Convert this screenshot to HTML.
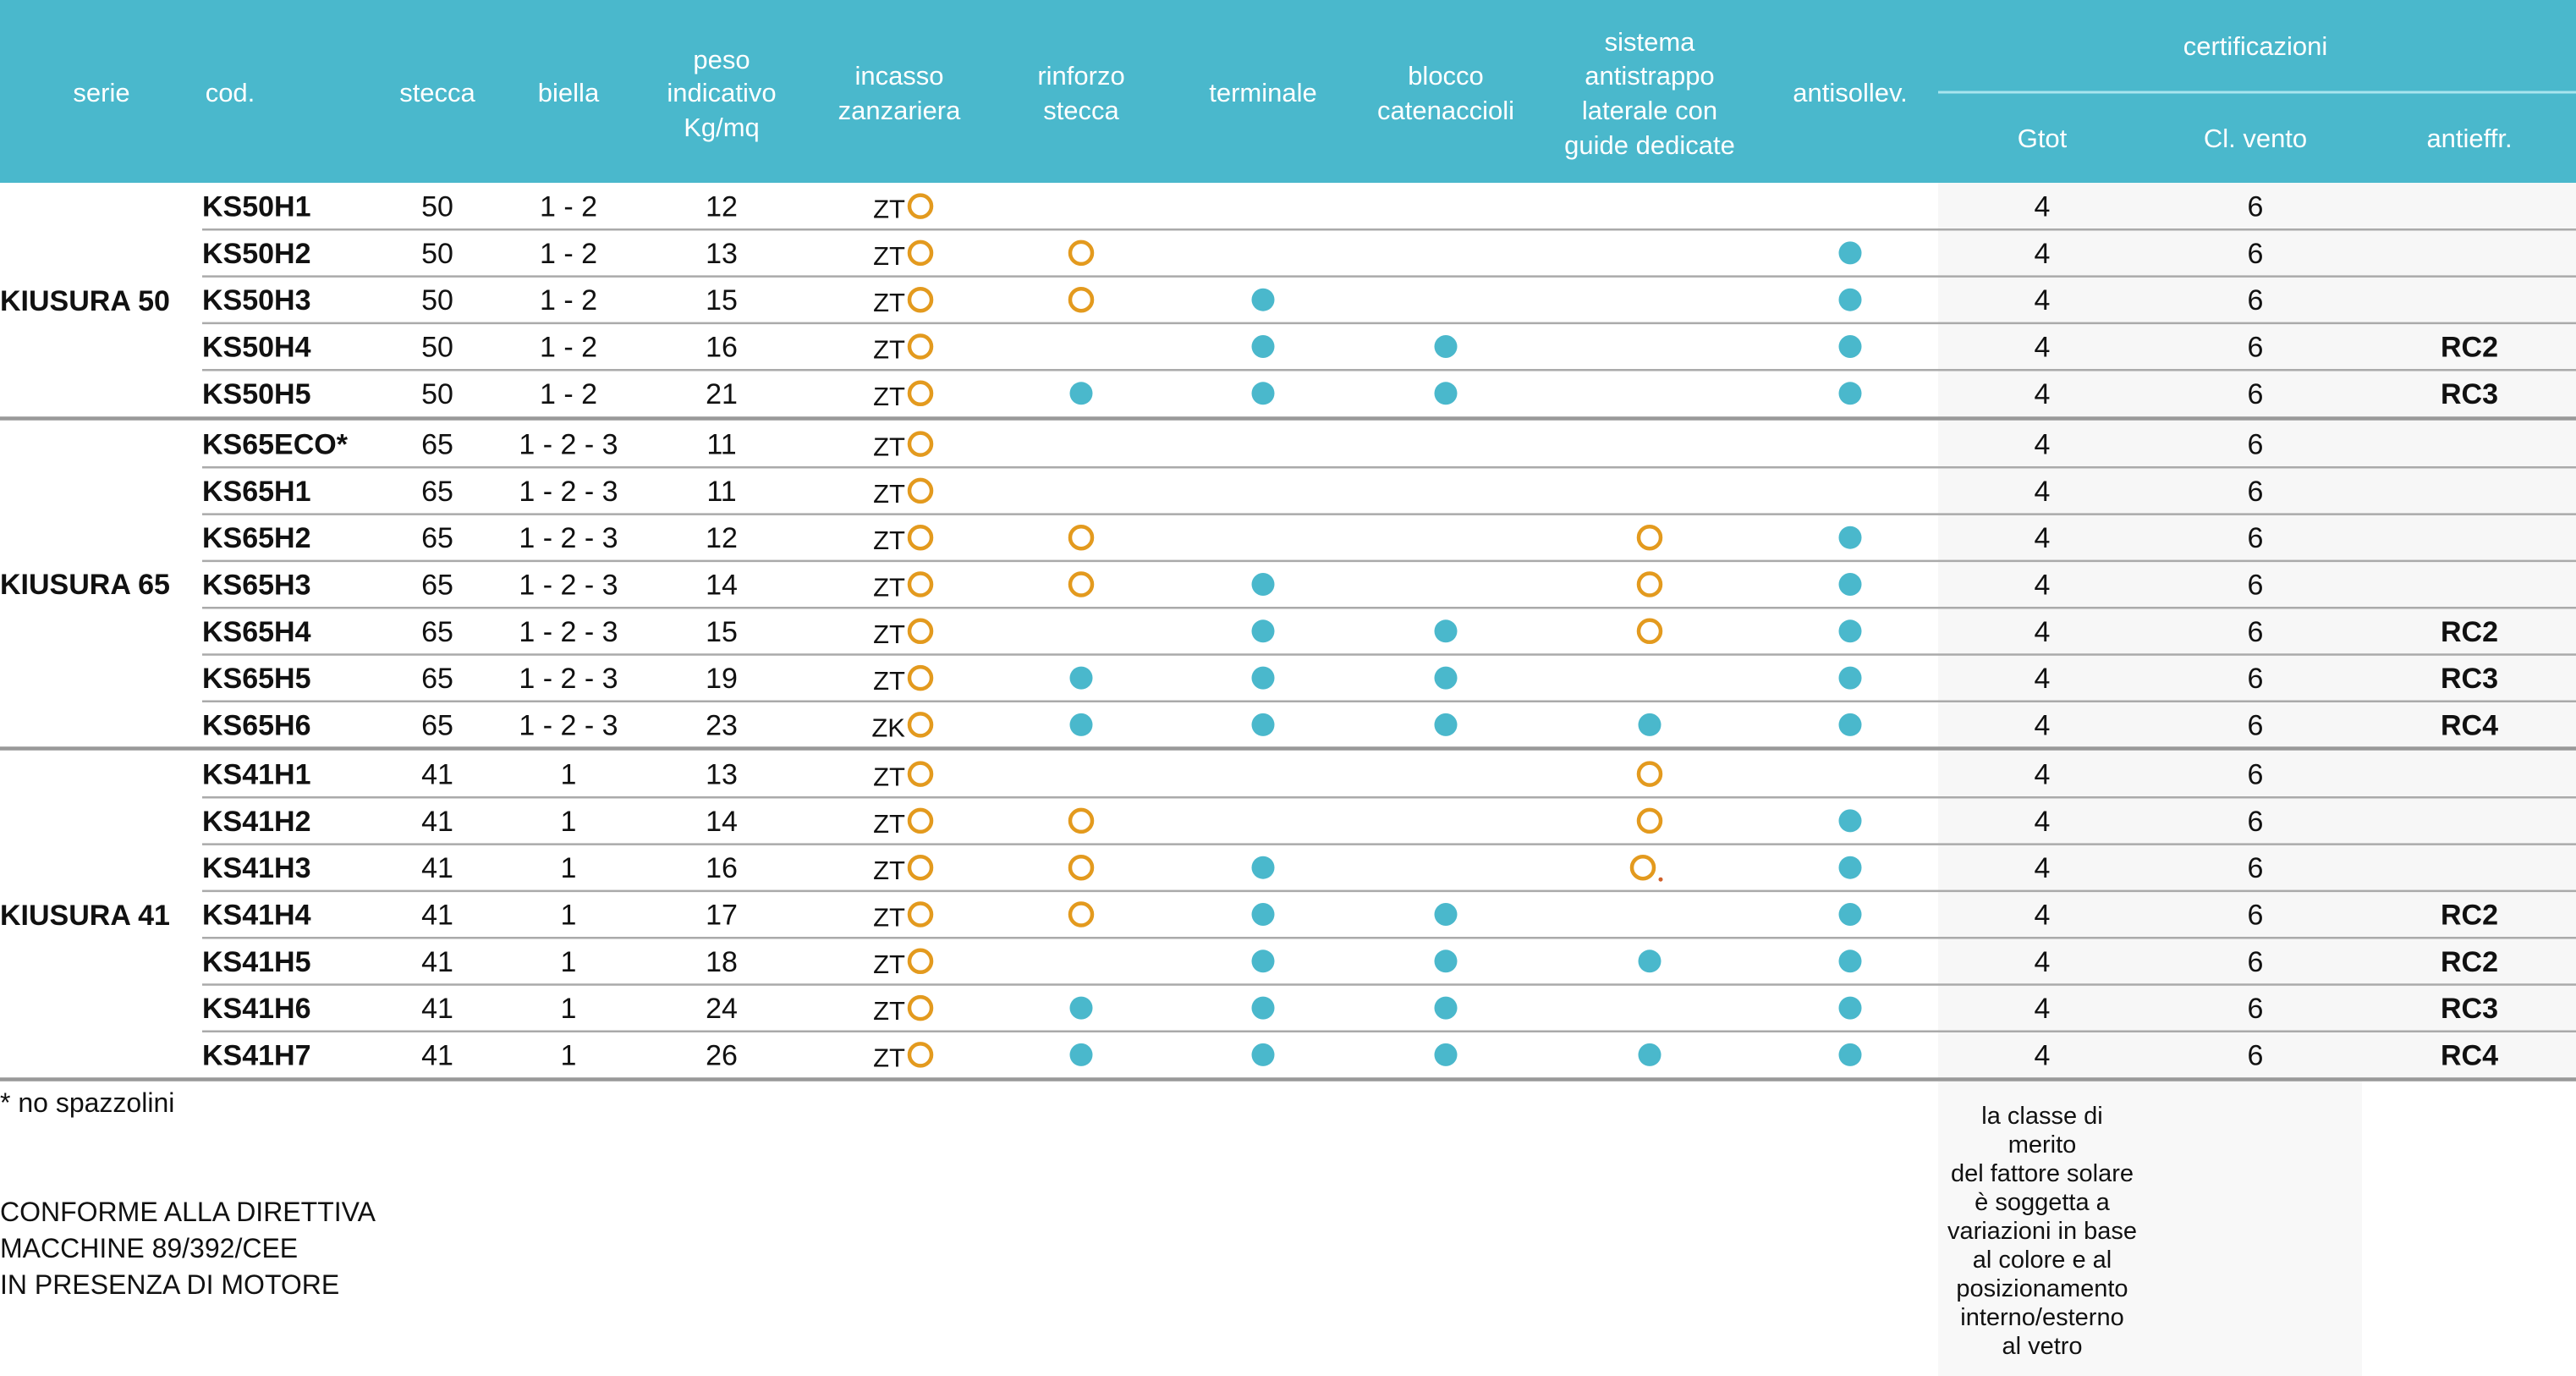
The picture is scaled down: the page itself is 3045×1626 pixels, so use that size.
<!DOCTYPE html>
<html><head><meta charset="utf-8"><style>
html,body{margin:0;padding:0;background:#fff;}
svg{display:block;}
text{font-family:"Liberation Sans",sans-serif;}
.h{fill:#fff;font-size:31px;text-anchor:middle;}
.d{fill:#111;font-size:34px;text-anchor:middle;}
.c{fill:#111;font-size:34px;font-weight:bold;}
.s{fill:#111;font-size:34px;font-weight:bold;}
.r{fill:#111;font-size:34px;font-weight:bold;text-anchor:middle;}
.z{fill:#111;font-size:31px;text-anchor:end;}
.f{fill:#111;font-size:32px;}
.n{fill:#111;font-size:29px;text-anchor:middle;}
</style></head><body>
<svg width="3045" height="1626" viewBox="0 0 3045 1626" xmlns="http://www.w3.org/2000/svg">
<defs>
<circle id="o" r="13" fill="none" stroke="#e39a1e" stroke-width="4.5"/>
<circle id="t" r="13.5" fill="#4ab8cc"/>
</defs>
<rect x="0" y="0" width="3045" height="216" fill="#4ab8cc"/>
<rect x="2291" y="216" width="754" height="1058" fill="#f7f7f7"/>
<rect x="2291" y="1278" width="501" height="348" fill="#f8f8f8"/>
<line x1="2291" y1="109" x2="3045" y2="109" stroke="#a8e4ee" stroke-width="3"/>
<!-- header -->
<text class="h" x="120" y="120">serie</text>
<text class="h" x="272" y="120">cod.</text>
<text class="h" x="517" y="120">stecca</text>
<text class="h" x="672" y="120">biella</text>
<text class="h" x="853" y="81">peso</text>
<text class="h" x="853" y="120">indicativo</text>
<text class="h" x="853" y="161">Kg/mq</text>
<text class="h" x="1063" y="100">incasso</text>
<text class="h" x="1063" y="141">zanzariera</text>
<text class="h" x="1278" y="100">rinforzo</text>
<text class="h" x="1278" y="141">stecca</text>
<text class="h" x="1493" y="120">terminale</text>
<text class="h" x="1709" y="100">blocco</text>
<text class="h" x="1709" y="141">catenaccioli</text>
<text class="h" x="1950" y="60">sistema</text>
<text class="h" x="1950" y="100">antistrappo</text>
<text class="h" x="1950" y="141">laterale con</text>
<text class="h" x="1950" y="182">guide dedicate</text>
<text class="h" x="2187" y="120">antisollev.</text>
<text class="h" x="2666" y="65">certificazioni</text>
<text class="h" x="2414" y="174">Gtot</text>
<text class="h" x="2666" y="174">Cl. vento</text>
<text class="h" x="2919" y="174">antieffr.</text>
<!-- separators -->
<g stroke="#aaa" stroke-width="2.5">
<line x1="239" y1="271.3" x2="3045" y2="271.3"/><line x1="239" y1="326.6" x2="3045" y2="326.6"/><line x1="239" y1="381.9" x2="3045" y2="381.9"/><line x1="239" y1="437.2" x2="3045" y2="437.2"/>
<line x1="239" y1="552.3" x2="3045" y2="552.3"/><line x1="239" y1="607.6" x2="3045" y2="607.6"/><line x1="239" y1="662.9" x2="3045" y2="662.9"/><line x1="239" y1="718.2" x2="3045" y2="718.2"/><line x1="239" y1="773.5" x2="3045" y2="773.5"/><line x1="239" y1="828.8" x2="3045" y2="828.8"/>
<line x1="239" y1="942.3" x2="3045" y2="942.3"/><line x1="239" y1="997.6" x2="3045" y2="997.6"/><line x1="239" y1="1052.9" x2="3045" y2="1052.9"/><line x1="239" y1="1108.2" x2="3045" y2="1108.2"/><line x1="239" y1="1163.5" x2="3045" y2="1163.5"/><line x1="239" y1="1218.8" x2="3045" y2="1218.8"/>
</g>
<g stroke="#999" stroke-width="4.5">
<line x1="0" y1="494.5" x2="3045" y2="494.5"/><line x1="0" y1="884.5" x2="3045" y2="884.5"/><line x1="0" y1="1275.5" x2="3045" y2="1275.5"/>
</g>
<!-- serie -->
<text class="s" x="0" y="367">KIUSURA 50</text>
<text class="s" x="0" y="702">KIUSURA 65</text>
<text class="s" x="0" y="1093">KIUSURA 41</text>

<!-- G1 -->
<g transform="translate(0,243.6)"><text class="c" x="239" y="12">KS50H1</text><text class="d" x="517" y="12">50</text><text class="d" x="672" y="12">1 - 2</text><text class="d" x="853" y="12">12</text><text class="z" x="1070" y="14">ZT</text><use href="#o" x="1088"/><text class="d" x="2414" y="12">4</text><text class="d" x="2666" y="12">6</text></g>
<g transform="translate(0,298.9)"><text class="c" x="239" y="12">KS50H2</text><text class="d" x="517" y="12">50</text><text class="d" x="672" y="12">1 - 2</text><text class="d" x="853" y="12">13</text><text class="z" x="1070" y="14">ZT</text><use href="#o" x="1088"/><use href="#o" x="1278"/><use href="#t" x="2187"/><text class="d" x="2414" y="12">4</text><text class="d" x="2666" y="12">6</text></g>
<g transform="translate(0,354.2)"><text class="c" x="239" y="12">KS50H3</text><text class="d" x="517" y="12">50</text><text class="d" x="672" y="12">1 - 2</text><text class="d" x="853" y="12">15</text><text class="z" x="1070" y="14">ZT</text><use href="#o" x="1088"/><use href="#o" x="1278"/><use href="#t" x="1493"/><use href="#t" x="2187"/><text class="d" x="2414" y="12">4</text><text class="d" x="2666" y="12">6</text></g>
<g transform="translate(0,409.5)"><text class="c" x="239" y="12">KS50H4</text><text class="d" x="517" y="12">50</text><text class="d" x="672" y="12">1 - 2</text><text class="d" x="853" y="12">16</text><text class="z" x="1070" y="14">ZT</text><use href="#o" x="1088"/><use href="#t" x="1493"/><use href="#t" x="1709"/><use href="#t" x="2187"/><text class="d" x="2414" y="12">4</text><text class="d" x="2666" y="12">6</text><text class="r" x="2919" y="12">RC2</text></g>
<g transform="translate(0,464.8)"><text class="c" x="239" y="12">KS50H5</text><text class="d" x="517" y="12">50</text><text class="d" x="672" y="12">1 - 2</text><text class="d" x="853" y="12">21</text><text class="z" x="1070" y="14">ZT</text><use href="#o" x="1088"/><use href="#t" x="1278"/><use href="#t" x="1493"/><use href="#t" x="1709"/><use href="#t" x="2187"/><text class="d" x="2414" y="12">4</text><text class="d" x="2666" y="12">6</text><text class="r" x="2919" y="12">RC3</text></g>

<!-- G2 -->
<g transform="translate(0,524.6)"><text class="c" x="239" y="12">KS65ECO*</text><text class="d" x="517" y="12">65</text><text class="d" x="672" y="12">1 - 2 - 3</text><text class="d" x="853" y="12">11</text><text class="z" x="1070" y="14">ZT</text><use href="#o" x="1088"/><text class="d" x="2414" y="12">4</text><text class="d" x="2666" y="12">6</text></g>
<g transform="translate(0,579.9)"><text class="c" x="239" y="12">KS65H1</text><text class="d" x="517" y="12">65</text><text class="d" x="672" y="12">1 - 2 - 3</text><text class="d" x="853" y="12">11</text><text class="z" x="1070" y="14">ZT</text><use href="#o" x="1088"/><text class="d" x="2414" y="12">4</text><text class="d" x="2666" y="12">6</text></g>
<g transform="translate(0,635.2)"><text class="c" x="239" y="12">KS65H2</text><text class="d" x="517" y="12">65</text><text class="d" x="672" y="12">1 - 2 - 3</text><text class="d" x="853" y="12">12</text><text class="z" x="1070" y="14">ZT</text><use href="#o" x="1088"/><use href="#o" x="1278"/><use href="#o" x="1950"/><use href="#t" x="2187"/><text class="d" x="2414" y="12">4</text><text class="d" x="2666" y="12">6</text></g>
<g transform="translate(0,690.5)"><text class="c" x="239" y="12">KS65H3</text><text class="d" x="517" y="12">65</text><text class="d" x="672" y="12">1 - 2 - 3</text><text class="d" x="853" y="12">14</text><text class="z" x="1070" y="14">ZT</text><use href="#o" x="1088"/><use href="#o" x="1278"/><use href="#t" x="1493"/><use href="#o" x="1950"/><use href="#t" x="2187"/><text class="d" x="2414" y="12">4</text><text class="d" x="2666" y="12">6</text></g>
<g transform="translate(0,745.8)"><text class="c" x="239" y="12">KS65H4</text><text class="d" x="517" y="12">65</text><text class="d" x="672" y="12">1 - 2 - 3</text><text class="d" x="853" y="12">15</text><text class="z" x="1070" y="14">ZT</text><use href="#o" x="1088"/><use href="#t" x="1493"/><use href="#t" x="1709"/><use href="#o" x="1950"/><use href="#t" x="2187"/><text class="d" x="2414" y="12">4</text><text class="d" x="2666" y="12">6</text><text class="r" x="2919" y="12">RC2</text></g>
<g transform="translate(0,801.1)"><text class="c" x="239" y="12">KS65H5</text><text class="d" x="517" y="12">65</text><text class="d" x="672" y="12">1 - 2 - 3</text><text class="d" x="853" y="12">19</text><text class="z" x="1070" y="14">ZT</text><use href="#o" x="1088"/><use href="#t" x="1278"/><use href="#t" x="1493"/><use href="#t" x="1709"/><use href="#t" x="2187"/><text class="d" x="2414" y="12">4</text><text class="d" x="2666" y="12">6</text><text class="r" x="2919" y="12">RC3</text></g>
<g transform="translate(0,856.4)"><text class="c" x="239" y="12">KS65H6</text><text class="d" x="517" y="12">65</text><text class="d" x="672" y="12">1 - 2 - 3</text><text class="d" x="853" y="12">23</text><text class="z" x="1070" y="14">ZK</text><use href="#o" x="1088"/><use href="#t" x="1278"/><use href="#t" x="1493"/><use href="#t" x="1709"/><use href="#t" x="1950"/><use href="#t" x="2187"/><text class="d" x="2414" y="12">4</text><text class="d" x="2666" y="12">6</text><text class="r" x="2919" y="12">RC4</text></g>

<!-- G3 -->
<g transform="translate(0,914.6)"><text class="c" x="239" y="12">KS41H1</text><text class="d" x="517" y="12">41</text><text class="d" x="672" y="12">1</text><text class="d" x="853" y="12">13</text><text class="z" x="1070" y="14">ZT</text><use href="#o" x="1088"/><use href="#o" x="1950"/><text class="d" x="2414" y="12">4</text><text class="d" x="2666" y="12">6</text></g>
<g transform="translate(0,969.9)"><text class="c" x="239" y="12">KS41H2</text><text class="d" x="517" y="12">41</text><text class="d" x="672" y="12">1</text><text class="d" x="853" y="12">14</text><text class="z" x="1070" y="14">ZT</text><use href="#o" x="1088"/><use href="#o" x="1278"/><use href="#o" x="1950"/><use href="#t" x="2187"/><text class="d" x="2414" y="12">4</text><text class="d" x="2666" y="12">6</text></g>
<g transform="translate(0,1025.2)"><text class="c" x="239" y="12">KS41H3</text><text class="d" x="517" y="12">41</text><text class="d" x="672" y="12">1</text><text class="d" x="853" y="12">16</text><text class="z" x="1070" y="14">ZT</text><use href="#o" x="1088"/><use href="#o" x="1278"/><use href="#t" x="1493"/><use href="#o" x="1942"/><circle cx="1963" cy="14" r="2.5" fill="#d0602a"/><use href="#t" x="2187"/><text class="d" x="2414" y="12">4</text><text class="d" x="2666" y="12">6</text></g>
<g transform="translate(0,1080.5)"><text class="c" x="239" y="12">KS41H4</text><text class="d" x="517" y="12">41</text><text class="d" x="672" y="12">1</text><text class="d" x="853" y="12">17</text><text class="z" x="1070" y="14">ZT</text><use href="#o" x="1088"/><use href="#o" x="1278"/><use href="#t" x="1493"/><use href="#t" x="1709"/><use href="#t" x="2187"/><text class="d" x="2414" y="12">4</text><text class="d" x="2666" y="12">6</text><text class="r" x="2919" y="12">RC2</text></g>
<g transform="translate(0,1135.8)"><text class="c" x="239" y="12">KS41H5</text><text class="d" x="517" y="12">41</text><text class="d" x="672" y="12">1</text><text class="d" x="853" y="12">18</text><text class="z" x="1070" y="14">ZT</text><use href="#o" x="1088"/><use href="#t" x="1493"/><use href="#t" x="1709"/><use href="#t" x="1950"/><use href="#t" x="2187"/><text class="d" x="2414" y="12">4</text><text class="d" x="2666" y="12">6</text><text class="r" x="2919" y="12">RC2</text></g>
<g transform="translate(0,1191.1)"><text class="c" x="239" y="12">KS41H6</text><text class="d" x="517" y="12">41</text><text class="d" x="672" y="12">1</text><text class="d" x="853" y="12">24</text><text class="z" x="1070" y="14">ZT</text><use href="#o" x="1088"/><use href="#t" x="1278"/><use href="#t" x="1493"/><use href="#t" x="1709"/><use href="#t" x="2187"/><text class="d" x="2414" y="12">4</text><text class="d" x="2666" y="12">6</text><text class="r" x="2919" y="12">RC3</text></g>
<g transform="translate(0,1246.4)"><text class="c" x="239" y="12">KS41H7</text><text class="d" x="517" y="12">41</text><text class="d" x="672" y="12">1</text><text class="d" x="853" y="12">26</text><text class="z" x="1070" y="14">ZT</text><use href="#o" x="1088"/><use href="#t" x="1278"/><use href="#t" x="1493"/><use href="#t" x="1709"/><use href="#t" x="1950"/><use href="#t" x="2187"/><text class="d" x="2414" y="12">4</text><text class="d" x="2666" y="12">6</text><text class="r" x="2919" y="12">RC4</text></g>

<!-- footer -->
<text class="f" x="0" y="1314" fill="#333">* no spazzolini</text>
<text class="f" x="0" y="1443">CONFORME ALLA DIRETTIVA</text>
<text class="f" x="0" y="1486">MACCHINE 89/392/CEE</text>
<text class="f" x="0" y="1529">IN PRESENZA DI MOTORE</text>
<text class="n" x="2414" y="1328">la classe di</text>
<text class="n" x="2414" y="1362">merito</text>
<text class="n" x="2414" y="1396">del fattore solare</text>
<text class="n" x="2414" y="1430">è soggetta a</text>
<text class="n" x="2414" y="1464">variazioni in base</text>
<text class="n" x="2414" y="1498">al colore e al</text>
<text class="n" x="2414" y="1532">posizionamento</text>
<text class="n" x="2414" y="1566">interno/esterno</text>
<text class="n" x="2414" y="1600">al vetro</text>
</svg>
</body></html>
